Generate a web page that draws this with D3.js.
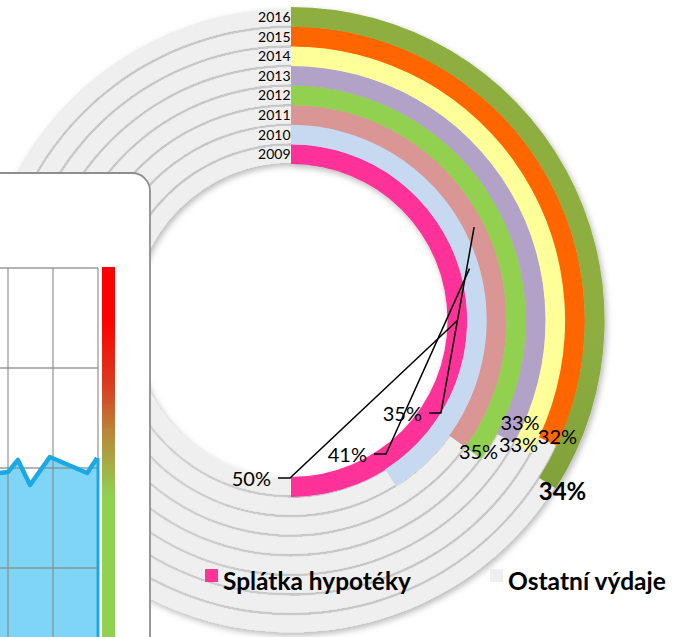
<!DOCTYPE html>
<html><head><meta charset="utf-8">
<script src="https://cdn.jsdelivr.net/npm/d3@7"></script>
<style>html,body{margin:0;padding:0;background:#fff;overflow:hidden}svg{display:block}</style>
</head><body>
<svg id="c" width="675" height="637"></svg>
<script>
// ---- data ----
const years = ["2009","2010","2011","2012","2013","2014","2015","2016"];
const mortgageShare = [50,41,35,35,33,33,32,34];
const percentLabels = ["50%","41%","35%","35%","33%","33%","32%","34%"];
const seriesNames = ["Splátka hypotéky","Ostatní výdaje"];
// decorative tablet mini chart (left)
const tabletX = [0.82,1.0,1.22,1.49,1.93,2.76,2.98];
const tabletY = [48.75,49,52,45.75,52.75,48.75,52.5];
const tabletGridX = [0,1,2,3];
const tabletGridY = [25,50,75,100];

// ---- styles / layout ----
const ringColors = ["#FF3399","#C6D9F1","#D99694","#92D050","#B3A2C7","#FFFF99","#FF6600","url(#olive)"];
const grayColor = "#EFEFEF";
const labelNudge = [[-1,-8.8],[-4.6,-23.5],[-16.3,-28.3],[5.4,6.2],[14.6,-8.4],[-4.1,4.2],[9.6,2.6],[15.3,16.9]];
const hasLeader = [true,true,true,false,false,false,false,false];
const boldLabel = [false,false,false,false,false,false,false,true];

const svg = d3.select("#c");
const defs = svg.append("defs");
const og = defs.append("linearGradient").attr("id","olive").attr("gradientUnits","userSpaceOnUse")
  .attr("x1",0).attr("y1",7).attr("x2",0).attr("y2",634);
og.append("stop").attr("offset",0).attr("stop-color","#8EAF40");
og.append("stop").attr("offset",0.75).attr("stop-color","#668630");
const sh = defs.append("filter").attr("id","sh").attr("x","-20%").attr("y","-20%").attr("width","140%").attr("height","140%");
sh.append("feDropShadow").attr("dx",2).attr("dy",3).attr("stdDeviation",3).attr("flood-color","#000").attr("flood-opacity",0.28);
const bg = defs.append("linearGradient").attr("id","heat").attr("x1",0).attr("y1",0).attr("x2",0).attr("y2",1);
[[0,"#FF0000"],[0.13,"#FF0000"],[0.3,"#D8401F"],[0.42,"#B88A3A"],[0.57,"#92D050"],[1,"#92D050"]]
  .forEach(s=>bg.append("stop").attr("offset",s[0]).attr("stop-color",s[1]));

const cx = 291, cy = 320.5;
const rScale = d3.scaleBand().domain(years).range([156.5, 156.5 + 8*19.6]);
const bw = rScale.bandwidth();
const aScale = d3.scaleLinear().domain([0,100]).range([0, 2*Math.PI]);
const arc = d3.arc();
const pt = (a, r) => [cx + r*Math.sin(a), cy - r*Math.cos(a)];

const rings = svg.append("g").attr("transform",`translate(${cx},${cy})`).attr("filter","url(#sh)");
years.forEach((y,i)=>{
  const r = rScale(y), v = mortgageShare[i];
  rings.append("path").attr("fill",grayColor)
    .attr("d",arc({innerRadius:r+1.5,outerRadius:r+bw-1.5,startAngle:aScale(v),endAngle:2*Math.PI}));
});
years.forEach((y,i)=>{
  const r = rScale(y), v = mortgageShare[i];
  rings.append("path").attr("fill",ringColors[i])
    .attr("d",arc({innerRadius:r,outerRadius:r+bw+0.3,startAngle:0,endAngle:aScale(v)}));
});

// year labels
const font = "Lato, 'Open Sans', sans-serif";
years.forEach((y,i)=>{
  const rm = rScale(y)+bw/2;
  svg.append("text").attr("x",cx-0.5).attr("y",cy-rm+5).attr("text-anchor","end")
    .attr("font-family",font).attr("font-size",14).attr("fill","#000").text(y);
});

// percent labels
years.forEach((y,i)=>{
  const rm = rScale(y)+bw/2, v = mortgageShare[i];
  const end = pt(aScale(v), rm);
  const p = [end[0]+labelNudge[i][0], end[1]+labelNudge[i][1]];
  if (hasLeader[i]) {
    const mid = pt(aScale(v/2), rm);
    svg.append("path").attr("fill","none").attr("stroke","#000").attr("stroke-width",1.5)
      .attr("d",`M${p[0]-12},${p[1]}L${p[0]},${p[1]}L${mid[0]},${mid[1]}`);
    svg.append("text").attr("x",p[0]-19).attr("y",p[1]+8).attr("text-anchor","end")
      .attr("font-family",font).attr("font-size",20).attr("fill","#000").text(percentLabels[i]);
  } else {
    svg.append("text").attr("x",p[0]).attr("y",p[1]).attr("text-anchor","middle")
      .attr("font-family",font).attr("font-size",boldLabel[i]?24:20)
      .attr("font-weight",boldLabel[i]?"bold":"normal").attr("fill","#000").text(percentLabels[i]);
  }
});

// decorative tablet with mini chart
const tab = svg.append("g");
tab.append("rect").attr("x",-60).attr("y",173).attr("width",210).attr("height",600).attr("rx",18)
  .attr("fill","#fff").attr("stroke","#8E8E8E").attr("stroke-width",1.8);
const tx = d3.scaleLinear().domain([0,3]).range([-37,98]);
const ty = d3.scaleLinear().domain([0,100]).range([668,268]);
const pts = tabletX.map((x,i)=>[x,tabletY[i]]);
tab.append("path").attr("fill","#7FD5F6")
  .attr("d",d3.area().x(d=>tx(d[0])).y0(ty(0)).y1(d=>ty(d[1]))(pts));
tabletGridX.forEach(u=>tab.append("line").attr("x1",tx(u)).attr("x2",tx(u)).attr("y1",ty(100)).attr("y2",ty(0))
  .attr("stroke","#8A8A8A").attr("stroke-width",1.3).attr("stroke-opacity",0.85));
tabletGridY.forEach(v=>tab.append("line").attr("x1",tx(0)).attr("x2",tx(3)).attr("y1",ty(v)).attr("y2",ty(v))
  .attr("stroke","#8A8A8A").attr("stroke-width",1.3).attr("stroke-opacity",0.85));
tab.append("path").attr("fill","none").attr("stroke","#1AA9E2").attr("stroke-width",4.5).attr("stroke-linejoin","round")
  .attr("d",d3.line().x(d=>tx(d[0])).y(d=>ty(d[1]))(pts));
tab.append("line").attr("x1",tx(3)).attr("x2",tx(3)).attr("y1",ty(tabletY[tabletY.length-1])).attr("y2",ty(0))
  .attr("stroke","#1AA9E2").attr("stroke-width",3);
tab.append("rect").attr("x",102).attr("y",267).attr("width",13).attr("height",400).attr("fill","url(#heat)");

// legend
const legendColors = ["#FF3399", grayColor];
const legendX = [205, 490];
const legendW = [188, 158];
seriesNames.forEach((n,i)=>{
  svg.append("rect").attr("x",legendX[i]).attr("y",569).attr("width",13).attr("height",13).attr("fill",legendColors[i]);
  const t = svg.append("text").attr("x",legendX[i]+18).attr("y",590).attr("font-family",font)
    .attr("font-weight","bold").attr("font-size",21).attr("fill","#000").text(n);
  const w = t.node().getComputedTextLength();
  t.attr("font-size", 21*legendW[i]/w);
});
</script>
</body></html>
